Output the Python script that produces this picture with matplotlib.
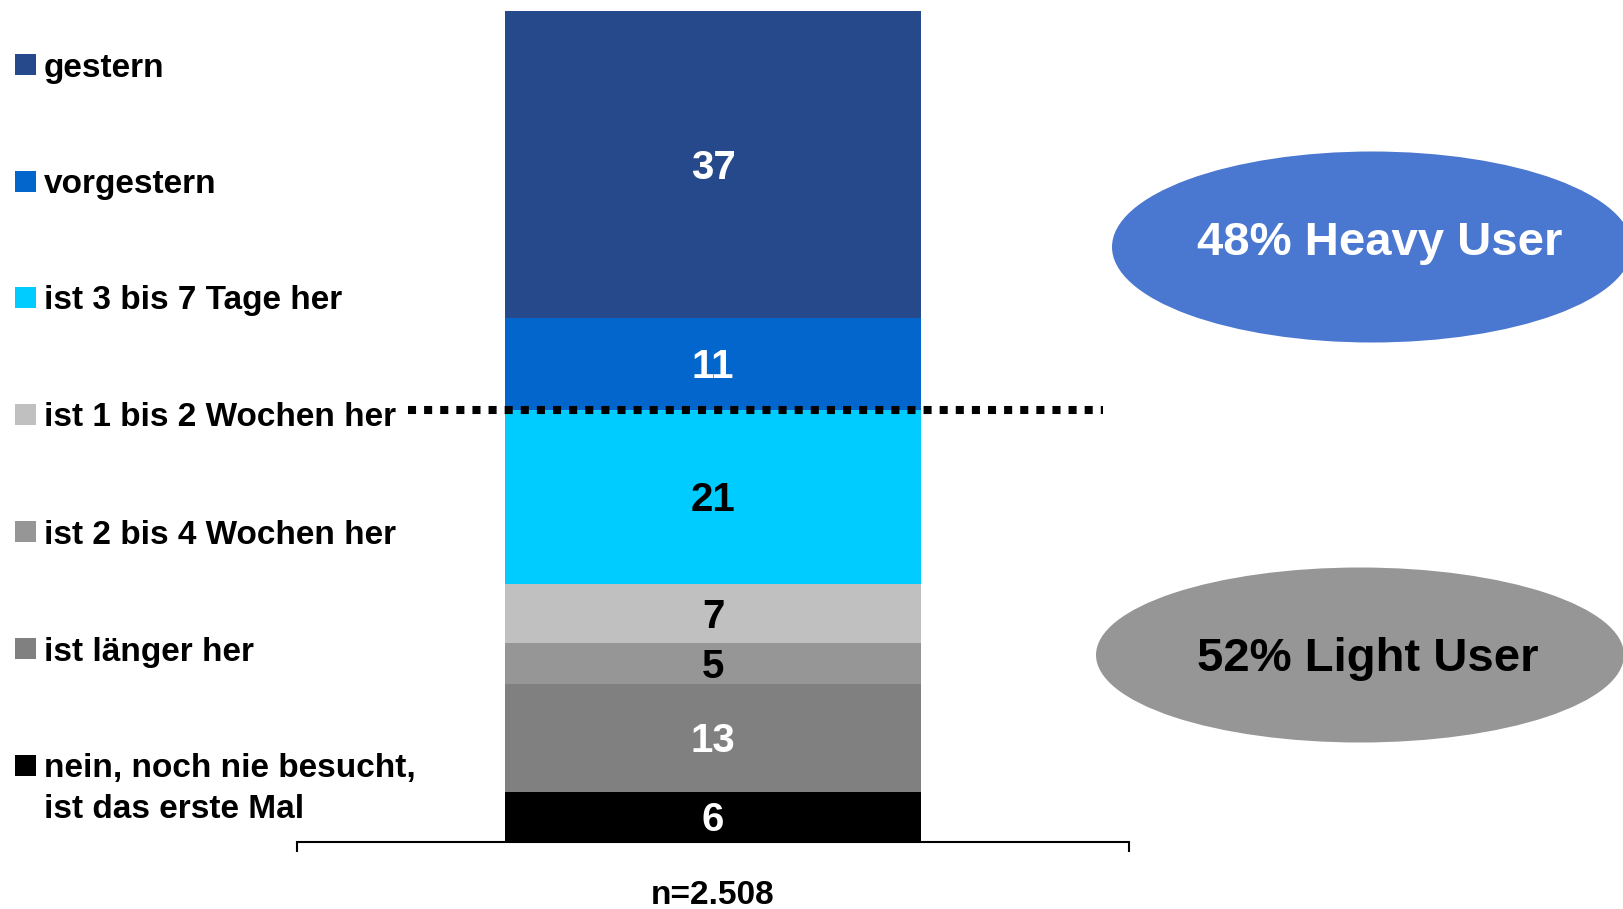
import matplotlib.pyplot as plt
from matplotlib.patches import Rectangle, Ellipse

# data, bottom to top of the stacked bar
labels = ['nein, noch nie besucht,\nist das erste Mal', 'ist länger her', 'ist 2 bis 4 Wochen her',
          'ist 1 bis 2 Wochen her', 'ist 3 bis 7 Tage her', 'vorgestern', 'gestern']
values = [6, 13, 5, 7, 21, 11, 37]
colors = ['#000000', '#808080', '#969696', '#C0C0C0', '#00CCFF', '#0366CC', '#26498C']
text_colors = ['white', 'white', 'black', 'black', 'black', 'white', 'white']
sample = 'n=2.508'
heavy_label = '48% Heavy User'
light_label = '52% Light User'
split_at = 52

plt.rcParams['font.family'] = ['Liberation Sans', 'DejaVu Sans']
plt.rcParams['font.weight'] = 'bold'

W, H = 1624, 909
fig = plt.figure(figsize=(W / 100, H / 100), dpi=100)

# axes placed in pixel terms
left, right, bottom, top = 297, 1129, 842, 11
ax = fig.add_axes([left / W, 1 - bottom / H, (right - left) / W, (bottom - top) / H])

base = 0
for v, c, tc in zip(values, colors, text_colors):
    ax.bar(0, v, bottom=base, width=0.5, color=c, linewidth=0)
    ax.text(0, base + v / 2 - 0.4, str(v), ha='center', va='center', color=tc, fontsize=29, fontweight='bold')
    base += v

ax.set_xlim(-0.5, 0.5)
ax.set_ylim(0, 100)
for s in ['top', 'right', 'left']:
    ax.spines[s].set_visible(False)
ax.spines['bottom'].set_linewidth(1.5)
ax.set_yticks([])
ax.set_xticks([-0.5, 0.5])
ax.set_xticklabels(['', ''])
ax.tick_params(axis='x', direction='out', length=7, width=1.5)
ax.text(0, -0.064, sample, transform=ax.get_xaxis_transform(), ha='center', va='center',
        fontsize=24, fontweight='bold')

# dotted divider between heavy and light users
ax.plot([-0.367, 0.469], [split_at, split_at], color='black', linewidth=5.8,
        linestyle=(0, (1, 1)), dash_capstyle='butt', clip_on=False)

# legend on the left, top to bottom
row_y = [65, 182, 298, 415, 532, 649, 766]
for i, (lab, c) in enumerate(zip(labels[::-1], colors[::-1])):
    y = row_y[i]
    fig.add_artist(Rectangle((15 / W, 1 - (y + 10) / H), 21 / W, 21 / H,
                             transform=fig.transFigure, color=c, linewidth=0))
    first, *rest = lab.split('\n')
    fig.text(44 / W, 1 - (y + 3) / H, first, ha='left', va='center', fontsize=24, fontweight='bold')
    if rest:
        fig.text(44 / W, 1 - (y + 44) / H, rest[0], ha='left', va='center', fontsize=24, fontweight='bold')

# the two ellipses on the right
fig.add_artist(Ellipse((1372 / W, 1 - 247 / H), 520 / W, 191 / H, transform=fig.transFigure,
                       color='#4A77CF', linewidth=0))
fig.text(1380 / W, 1 - 243 / H, heavy_label, ha='center', va='center', color='white',
         fontsize=34, fontweight='bold')
fig.add_artist(Ellipse((1360 / W, 1 - 655 / H), 528 / W, 175 / H, transform=fig.transFigure,
                       color='#969696', linewidth=0))
fig.text(1368 / W, 1 - 659 / H, light_label, ha='center', va='center', color='black',
         fontsize=34, fontweight='bold')

fig.savefig('out.png', dpi=100)
